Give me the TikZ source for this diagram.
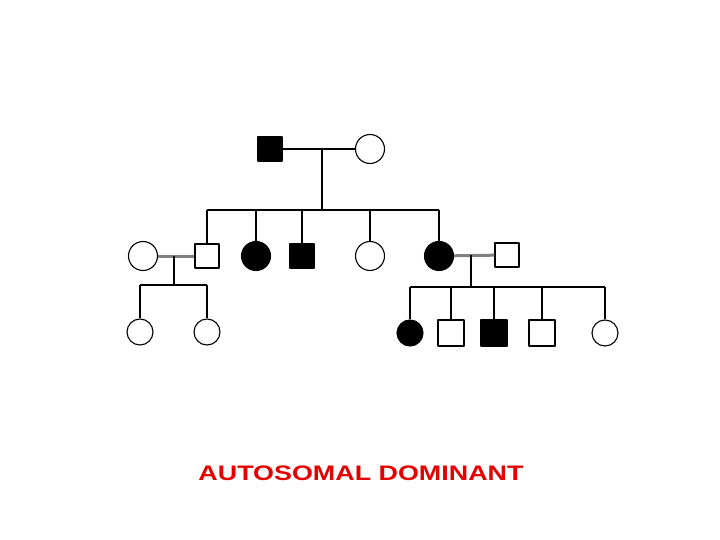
\documentclass[tikz,border=0pt]{standalone}
\usepackage{fontspec}
\setmainfont{Liberation Sans}
\tikzset{
  male/.style={draw, line width=1.3pt, rectangle, minimum size=24pt, inner sep=0pt},
  female/.style={draw, line width=1.1pt, circle, minimum size=29pt, inner sep=0pt},
  kid/.style={minimum size=26pt},
  aff/.style={fill=black},
  line/.style={line width=1.6pt},
  mate/.style={line width=3pt, gray}
}
\begin{document}
\begin{tikzpicture}[x=1pt, y=-1pt, line join=round]
  \useasboundingbox (0,0) rectangle (720,540);
  % Generation I
  \node[male, aff] (I1) at (270,149) {};
  \node[female] (I2) at (370,149) {};
  % Generation II
  \node[female] (II0) at (143,256) {};
  \node[male] (II1) at (207,256) {};
  \node[female, aff] (II2) at (256,256) {};
  \node[male, aff] (II3) at (302,256) {};
  \node[female] (II4) at (370,256) {};
  \node[female, aff] (II5) at (439,256) {};
  \node[male] (II6) at (507,255) {};
  % Generation III
  \node[female, kid] (III1) at (140,332) {};
  \node[female, kid] (III2) at (207,332) {};
  \node[female, aff, kid] (III3) at (410,333) {};
  \node[male, kid] (III4) at (451,333) {};
  \node[male, aff, kid] (III5) at (494,333) {};
  \node[male, kid] (III6) at (542,333) {};
  \node[female, kid] (III7) at (605,333) {};
  % Kopplungspunkte
  \coordinate (m1) at (322,149);
  \coordinate (s1) at (322,210);
  \coordinate (m2) at (174,256);
  \coordinate (s2) at (174,285);
  \coordinate (m3) at (471,255);
  \coordinate (s3) at (471,287);
  % Ehe I
  \draw[line] (I1) -- (I2);
  \draw[line] (m1) -- (s1);
  \draw[line] (II1 |- s1) -- (II5 |- s1);
  \foreach \k in {II1,II2,II3,II4,II5} \draw[line] (\k |- s1) -- (\k.north);
  % Ehe links
  \draw[mate] (II0) -- (II1);
  \draw[line] (m2) -- (s2);
  \draw[line] (III1 |- s2) -- (III2 |- s2);
  \foreach \k in {III1,III2} \draw[line] (\k |- s2) -- (\k.north);
  % Ehe rechts
  \draw[mate] (II5) -- (II6);
  \draw[line] (m3) -- (s3);
  \draw[line] (III3 |- s3) -- (III7 |- s3);
  \foreach \k in {III3,III4,III5,III6,III7} \draw[line] (\k |- s3) -- (\k.north);
  % Titel
  \node[text=red!90!black, font=\bfseries\fontsize{21}{24}\selectfont, xscale=1.28, transform shape] (title) at (361,473) {AUTOSOMAL DOMINANT};
\end{tikzpicture}
\end{document}
